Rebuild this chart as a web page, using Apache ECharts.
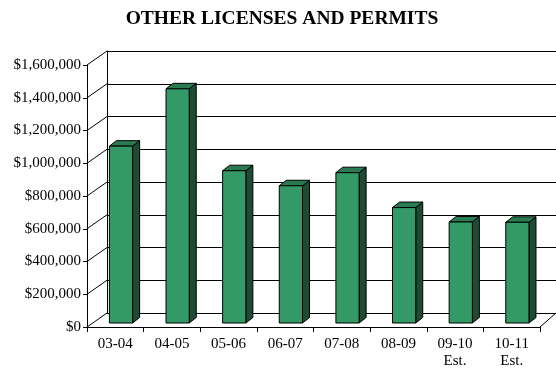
<!DOCTYPE html>
<html>
<head>
<meta charset="utf-8">
<script src="https://cdn.jsdelivr.net/npm/echarts@6/dist/echarts.min.js"></script>
<style>html,body{margin:0;padding:0;background:#fff}#c{width:556px;height:373px}</style>
</head>
<body>
<div id="c"></div>
<script>
const categories = ['03-04', '04-05', '05-06', '06-07', '07-08', '08-09', '09-10\nEst.', '10-11\nEst.'];
const revenue = [1080000, 1430000, 930000, 838000, 918000, 705000, 617000, 615000];
const yTicks = [0, 200000, 400000, 600000, 800000, 1000000, 1200000, 1400000, 1600000];
const titleText = 'OTHER LICENSES AND PERMITS';

const FONT = '"Liberation Serif", "Times New Roman", serif';
const DEPTH = [20, -14];      // wall depth offset
const BAR_OFF = [5.7, -4];    // bar front plane offset
const BAR_DEPTH = [7, -5.5];  // bar thickness offset
const fmt = v => '$' + v.toLocaleString('en-US');

const chart = echarts.init(document.getElementById('c'), null, {renderer: 'canvas'});
chart.setOption({
  animation: false,
  backgroundColor: '#fff',
  graphic: [{
    type: 'text', x: 282, y: 18.5,
    style: {text: titleText, align: 'center', verticalAlign: 'middle',
      font: 'bold 19.5px ' + FONT, fill: '#000'}
  }],
  grid: [
    {left: 87, right: 16, top: 65, bottom: 46},
    {left: 107, right: 0, top: 51, bottom: 60}
  ],
  xAxis: [
    {type: 'category', gridIndex: 0, data: categories,
      axisLine: {lineStyle: {color: '#000', width: 1}},
      axisTick: {show: true, length: 5, alignWithLabel: false, lineStyle: {color: '#000'}},
      axisLabel: {color: '#000', fontFamily: FONT, fontSize: 15, margin: 9, lineHeight: 17, interval: 0},
      splitLine: {show: false}},
    {type: 'category', gridIndex: 1, data: categories, show: false}
  ],
  yAxis: [
    {type: 'value', gridIndex: 0, min: 0, max: 1600000, interval: 200000,
      axisLine: {show: true, lineStyle: {color: '#000', width: 1}},
      axisTick: {show: true, length: 4, lineStyle: {color: '#000'}},
      axisLabel: {color: '#000', fontFamily: FONT, fontSize: 15, margin: 6, formatter: fmt},
      splitLine: {show: false}},
    {type: 'value', gridIndex: 1, min: 0, max: 1600000, interval: 200000,
      axisLine: {show: true, lineStyle: {color: '#000', width: 1}},
      axisTick: {show: false}, axisLabel: {show: false},
      splitLine: {show: true, lineStyle: {color: '#000', width: 1}}}
  ],
  series: [
    {
      type: 'custom', xAxisIndex: 0, yAxisIndex: 0, silent: true, z: 1,
      data: yTicks.map(v => [0, v]),
      renderItem: (params, api) => {
        const v = api.value(1);
        const band = api.size([1, 0])[0];
        const p = api.coord([0, v]);
        const x0 = p[0] - band / 2;
        const children = [{
          type: 'line',
          shape: {x1: x0, y1: p[1], x2: x0 + DEPTH[0], y2: p[1] + DEPTH[1]},
          style: {stroke: '#000', lineWidth: 1}
        }];
        if (v === 0) {
          const pr = api.coord([categories.length - 1, 0]);
          const xr = pr[0] + band / 2;
          children.push({
            type: 'line',
            shape: {x1: xr, y1: pr[1], x2: xr + 16, y2: pr[1] + DEPTH[1]},
            style: {stroke: '#000', lineWidth: 1}
          });
        }
        return {type: 'group', children};
      }
    },
    {
      type: 'custom', xAxisIndex: 0, yAxisIndex: 0, silent: true, z: 5,
      data: revenue.map((v, i) => [i, v]),
      renderItem: (params, api) => {
        const i = api.value(0), v = api.value(1);
        const band = api.size([1, 0])[0];
        const c0 = api.coord([i, 0]);
        const c1 = api.coord([i, v]);
        const w = band * 0.41;
        const x = c0[0] + BAR_OFF[0] - w / 2;
        const y = c1[1] + BAR_OFF[1];
        const h = c0[1] - c1[1];
        const dx = BAR_DEPTH[0], dy = BAR_DEPTH[1];
        const st = {stroke: '#000', lineWidth: 1, lineJoin: 'round'};
        return {type: 'group', children: [
          {type: 'polygon', shape: {points: [[x + w, y], [x + w + dx, y + dy], [x + w + dx, y + h + dy], [x + w, y + h]]},
            style: Object.assign({fill: '#1e4b33'}, st)},
          {type: 'polygon', shape: {points: [[x, y], [x + dx, y + dy], [x + w + dx, y + dy], [x + w, y]]},
            style: Object.assign({fill: '#2a7a52'}, st)},
          {type: 'rect', shape: {x: x, y: y, width: w, height: h},
            style: Object.assign({fill: '#339966'}, st)}
        ]};
      }
    }
  ]
});
</script>
</body>
</html>
